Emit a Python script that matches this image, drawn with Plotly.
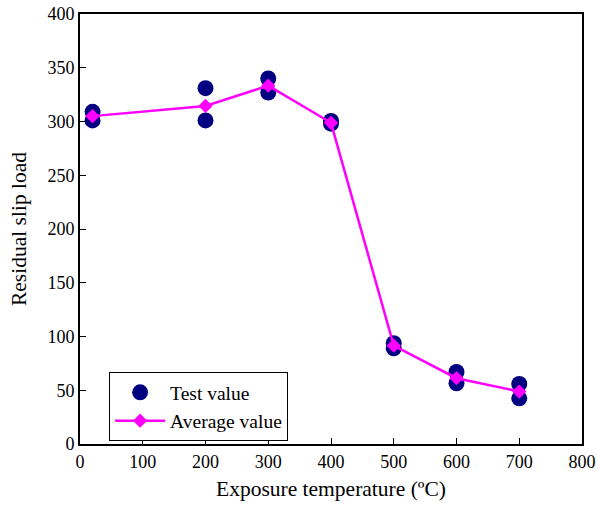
import plotly.graph_objects as go

temps_test = [20, 20, 200, 200, 300, 300, 400, 400, 500, 500, 600, 600, 700, 700]
test_values = [309, 301, 331, 301, 340, 327, 300.5, 298, 93.7, 89, 67, 56.5, 55.8, 42.5]
temps_avg = [20, 200, 300, 400, 500, 600, 700]
avg_values = [305, 314.5, 333.3, 298.8, 91.5, 61.2, 48.8]

font_family = "Liberation Serif"

fig = go.Figure()
fig.add_trace(go.Scatter(
    x=temps_test, y=test_values, mode="markers", name="Test value",
    marker=dict(symbol="circle", size=16, color="#000080"),
))
fig.add_trace(go.Scatter(
    x=temps_avg, y=avg_values, mode="lines+markers", name="Average value",
    line=dict(color="#FF00FF", width=2.5),
    marker=dict(symbol="diamond", size=11, color="#FF00FF"),
))

axis_common = dict(
    showgrid=False, zeroline=False, showline=True, linecolor="black", linewidth=2,
    mirror=True, ticks="inside", ticklen=6, tickwidth=1, tickcolor="black",
    automargin=False,
    tickfont=dict(family=font_family, size=18, color="black"),
)
fig.update_xaxes(range=[0, 800], dtick=100, tick0=0,
                 title=dict(text="Exposure temperature (ºC)", font=dict(family=font_family, size=21.5, color="black"), standoff=10),
                 **axis_common)
fig.update_yaxes(range=[0, 400], dtick=50, tick0=0,
                 title=dict(text="Residual slip load", font=dict(family=font_family, size=21.5, color="black"), standoff=15),
                 **axis_common)

fig.update_layout(
    width=596, height=507,
    margin=dict(l=80, r=14, t=14, b=63),
    plot_bgcolor="white", paper_bgcolor="white",
    font=dict(family=font_family, color="black"),
    legend=dict(x=0.058, y=0.167, xanchor="left", yanchor="top",
                bordercolor="black", borderwidth=1, bgcolor="white",
                font=dict(family=font_family, size=19.5, color="black"),
                itemwidth=50, tracegroupgap=0),
    showlegend=True,
)

fig.write_html("out.html")
